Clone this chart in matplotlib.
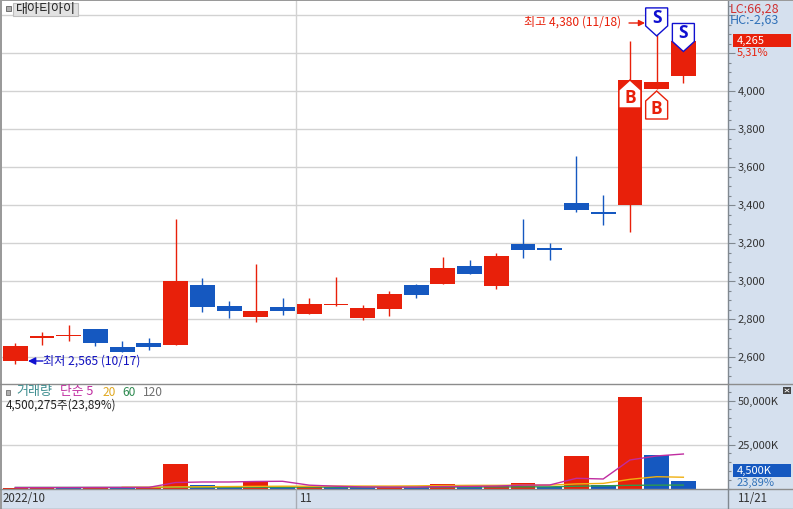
import matplotlib
matplotlib.use("Agg")
import matplotlib.pyplot as plt
from matplotlib.patches import Rectangle, Polygon
from matplotlib.ticker import FixedLocator, MultipleLocator, FuncFormatter

plt.rcParams['font.family'] = ['Noto Sans CJK KR', 'DejaVu Sans']

# daily candles 2022/10/17 .. 11/21
opens = [2581, 2702, 2710, 2747, 2653, 2674, 2663, 2979, 2868, 2812, 2863, 2828, 2874,
         2807, 2855, 2979, 2986, 3079, 2975, 3196, 3174, 3411, 3363, 3400, 4010, 4079]
closes = [2658, 2710, 2717, 2675, 2628, 2655, 3000, 2865, 2844, 2842, 2844, 2879, 2879,
          2858, 2932, 2928, 3068, 3038, 3132, 3165, 3165, 3374, 3353, 4058, 4049, 4265]
highs = [2675, 2732, 2768, 2747, 2684, 2700, 3326, 3014, 2896, 3089, 2911, 2911, 3021,
         2874, 2947, 2984, 3126, 3111, 3147, 3326, 3202, 3658, 3453, 4263, 4380, 4265]
lows = [2565, 2665, 2684, 2660, 2628, 2637, 2663, 2838, 2807, 2786, 2823, 2828, 2870,
        2796, 2818, 2912, 2986, 3038, 2960, 3123, 3112, 3363, 3295, 3258, 4010, 4044]

# volume in thousands of shares
volumes = [500, 700, 600, 800, 500, 600, 13900, 1800, 900, 4100, 800, 1000, 700,
           700, 800, 800, 2500, 1400, 1500, 3300, 700, 18500, 1800, 52000, 18837, 4500]
vol_up = [1, 1, 0, 1, 0, 1, 1, 0, 0, 1, 0, 1, 0, 0, 1, 0, 1, 0, 1, 1, 0, 1, 0, 1, 0, 0]
ma5 = [500, 520, 540, 600, 620, 640, 3400, 3700, 3700, 4000, 4100, 1900, 1300,
       900, 800, 800, 1100, 1200, 1400, 1900, 2000, 5800, 5400, 16200, 18500, 19600]
ma20 = [None, None, None, None, 700, 700, 900, 1000, 1100, 1200, 1300, 1300, 1400,
        1400, 1400, 1500, 1700, 1800, 1800, 1900, 1900, 2600, 2900, 5200, 6700, 6400]
ma60 = [600, 600, 600, 600, 600, 620, 700, 700, 720, 740, 760, 780, 800,
        800, 820, 820, 850, 870, 900, 930, 950, 1300, 1500, 1800, 1900, 1950]

price_ticks = [2600, 2800, 3000, 3200, 3400, 3600, 3800, 4000, 4200, 4400]
vol_ticks = [25000, 50000]

# signals: candle index, price at the tip of the flag
buy_idx = [23, 24]
buy_tip = [4058, 4000]
sell_idx = [24, 25]
sell_tip = [4290, 4208]

RED = '#E8200A'
BLUE = '#1558C0'
GRID = '#D2D2D2'
PANEL = '#D5E0EE'
W, H = 793, 509

fig = plt.figure(figsize=(W / 100, H / 100), dpi=100, facecolor='white')


def px_axes(x0, y0, x1, y1, **kw):
    return fig.add_axes([x0 / W, 1 - y1 / H, (x1 - x0) / W, (y1 - y0) / H], **kw)


bg = px_axes(0, 0, W, H, zorder=0)
bg.set_xlim(0, W)
bg.set_ylim(H, 0)
bg.axis('off')
bg.add_patch(Rectangle((728, 0), W - 728, H, color=PANEL, lw=0))
bg.add_patch(Rectangle((0, 489), W, 20, color=PANEL, lw=0))

ax = px_axes(2, 1, 728, 383, zorder=1)
vax = px_axes(2, 384, 728, 488.5, zorder=1)

x = list(range(len(opens)))
xlim = (-0.498, 26.67)

# price panel
for p in price_ticks:
    ax.axhline(p, color=GRID, lw=1, zorder=1)
ax.axvline(10.5, color=GRID, lw=1, zorder=1)
for i in x:
    c = RED if closes[i] >= opens[i] else BLUE
    ax.vlines(i, lows[i], highs[i], color=c, lw=1, zorder=2)
    ax.bar(i, abs(closes[i] - opens[i]), bottom=min(opens[i], closes[i]), width=0.93,
           color=c, lw=0, zorder=3)
ax.set_xlim(*xlim)
ax.set_ylim(2463.2, 4473.7)
ax.set_xticks([])
ax.yaxis.tick_right()
ax.yaxis.set_major_locator(FixedLocator(price_ticks))
ax.yaxis.set_minor_locator(MultipleLocator(50))
ax.yaxis.set_major_formatter(FuncFormatter(lambda v, pos: f"{v:,.0f}" if v <= 4000 else ""))

px_x = (xlim[1] - xlim[0]) / 726
px_y = (4473.7 - 2463.2) / 382


def flag(i, tip, up, edge, fill, letter):
    # five sided flag hanging from (or standing on) its tip, sizes in pixels
    d = 1 if up else -1
    hw, shoulder, end = 11 * px_x, 10 * px_y * d, 28 * px_y * d
    pts = [(i, tip), (i + hw, tip - shoulder), (i + hw, tip - end),
           (i - hw, tip - end), (i - hw, tip - shoulder)]
    ax.add_patch(Polygon(pts, closed=True, fc=fill, ec=edge, lw=1, zorder=5))
    ax.text(i, tip - 18 * px_y * d, letter, color=edge, fontsize=12.5, fontweight='bold',
            ha='center', va='center', zorder=6, family='Open Sans')


for i, t in zip(buy_idx, buy_tip):
    flag(i, t, True, RED, 'white', 'B')
for i, t in zip(sell_idx, sell_tip):
    flag(i, t, False, '#1010D0', 'white', 'S')

# volume panel
for v in vol_ticks:
    vax.axhline(v, color=GRID, lw=1, zorder=1)
vax.axvline(10.5, color=GRID, lw=1, zorder=1)
vax.bar(x, volumes, width=0.93, color=[RED if u else BLUE for u in vol_up], lw=0, zorder=2)
vax.plot(x, ma60, color='#2E9A4E', lw=1, zorder=3)
vax.plot(x, ma20, color='#F0B010', lw=1, zorder=4)
vax.plot(x, ma5, color='#C02CA0', lw=1, zorder=5)
vax.set_xlim(*xlim)
vax.set_ylim(0, 104.5 * 25000 / 44)
vax.set_xticks([])
vax.yaxis.tick_right()
vax.yaxis.set_major_locator(FixedLocator(vol_ticks))
vax.yaxis.set_minor_locator(MultipleLocator(5000))
vax.yaxis.set_major_formatter(FuncFormatter(lambda v, pos: f"{v:,.0f}K"))

for a in (ax, vax):
    for s in ('top', 'left', 'bottom'):
        a.spines[s].set_visible(False)
    a.spines['right'].set_color('#808890')
    a.spines['right'].set_linewidth(1)
    a.tick_params(axis='y', which='major', length=5, width=0.8, color='#808890',
                  labelsize=8, labelcolor='#333333', pad=2)
    a.tick_params(axis='y', which='minor', length=2.5, width=0.8, color='#808890')

# labels and frame, drawn in pixel coordinates
top = px_axes(0, 0, W, H, zorder=3)
top.set_xlim(0, W)
top.set_ylim(H, 0)
top.axis('off')
top.patch.set_alpha(0)

top.add_patch(Rectangle((0, 0), 2, H, color='#9A9A9A', lw=0))
top.add_patch(Rectangle((0, 0), W, 1, color='#9A9A9A', lw=0))
top.plot([0, W], [383.5, 383.5], color='#8C8C8C', lw=1)
top.plot([0, W], [489, 489], color='#8C8C8C', lw=1)
top.plot([0, W], [508.5, 508.5], color='#8C8C8C', lw=1)
top.plot([728, 728], [489, 509], color='#808890', lw=1)
top.plot([296, 296], [489, 509], color='#A8ACB4', lw=1)

top.add_patch(Rectangle((5.5, 6), 5, 5, fc='#B0B0B0', ec='#707070', lw=0.7))
top.add_patch(Rectangle((12.5, 2.5), 65, 13.5, fc='#E2E2E2', ec='#BDBDBD', lw=0.8))
top.text(16, 9.5, "대아티아이", fontsize=9.4, color='#222222', va='center')

top.text(524, 22.5, "최고 4,380 (11/18)", fontsize=8.7, color=RED, va='center')
top.annotate("", xy=(645, 23), xytext=(629, 23),
             arrowprops=dict(arrowstyle='-|>', color=RED, lw=1, mutation_scale=9,
                             shrinkA=0, shrinkB=0))
top.text(43, 361, "최저 2,565 (10/17)", fontsize=8.7, color='#1010C0', va='center')
top.annotate("", xy=(28, 361), xytext=(43, 361),
             arrowprops=dict(arrowstyle='-|>', color='#1010D0', lw=1, mutation_scale=11,
                             shrinkA=0, shrinkB=0))

top.text(730, 9, "LC:66,28", fontsize=9, color='#D03030', va='center')
top.text(730, 20.5, "HC:-2,63", fontsize=9, color='#2F70B8', va='center')
top.add_patch(Rectangle((733, 34), 58, 13, color=RED, lw=0))
top.text(737, 40.5, "4,265", fontsize=8, color='white', va='center')
top.text(737, 52.5, "5,31%", fontsize=8, color=RED, va='center')

top.add_patch(Rectangle((733, 464), 58, 13, color=BLUE, lw=0))
top.text(737, 470.5, "4,500K", fontsize=8, color='white', va='center')
top.text(737, 483, "23,89%", fontsize=8, color='#2F70B8', va='center')
top.add_patch(Rectangle((783, 387), 8, 7, color='#444444', lw=0))
top.plot([785, 789], [389, 392], color='white', lw=0.6)
top.plot([785, 789], [392, 389], color='white', lw=0.6)
top.text(737, 498.5, "11/21", fontsize=8.3, color='#333333', va='center')

top.add_patch(Rectangle((5.5, 389.5), 4, 5, fc='#B0B0B0', ec='#808080', lw=0.7))
top.text(16, 392, "거래량", fontsize=9.4, color='#3E8E90', va='center')
top.text(60, 392, "단순 5", fontsize=9.2, color='#C02CA0', va='center')
top.text(103, 392, "20", fontsize=8.6, color='#E0A820', va='center')
top.text(122, 392, "60", fontsize=8.6, color='#2E8A50', va='center')
top.text(143, 392, "120", fontsize=8.6, color='#707070', va='center')
top.text(6, 405, "4,500,275주(23,89%)", fontsize=8.4, color='#222222', va='center')

top.text(3, 498.5, "2022/10", fontsize=8.3, color='#333333', va='center')
top.text(299, 498.5, "11", fontsize=8.3, color='#333333', va='center')

fig.savefig("out.png", dpi=100)
